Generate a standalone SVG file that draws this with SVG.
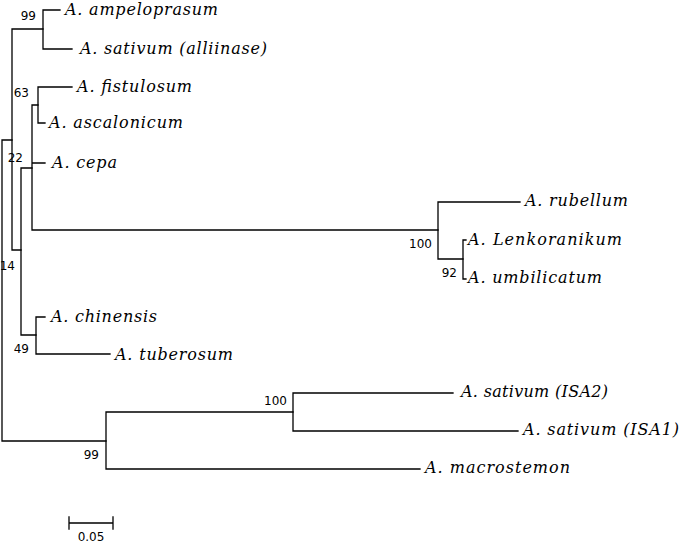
<svg xmlns="http://www.w3.org/2000/svg" width="681" height="543" viewBox="0 0 681 543">
<style>
.br{fill:none;stroke:#000;stroke-width:1.3;stroke-linecap:square}
.tx{font-family:"DejaVu Serif","Liberation Serif",serif;font-style:italic;font-size:16px;fill:#000}
.bs{font-family:"DejaVu Sans","Liberation Sans",sans-serif;font-size:12px;fill:#000;text-anchor:end}
.sc{font-family:"DejaVu Sans","Liberation Sans",sans-serif;font-size:12px;fill:#000;text-anchor:middle}
</style>
<rect width="681" height="543" fill="#fff"/>
<g id="connectors" class="br">
<path d="M2,140 V441 M2,140 H12 M2,441 H106"/>
<path d="M12,29 V250 M12,29 H43 M12,250 H21"/>
<path d="M43,10 V49 M43,10 H60 M43,49 H72"/>
<path d="M21,168 V335 M21,168 H32 M21,335 H36"/>
<path d="M32,105 V230 M32,105 H38 M32,163 H45 M32,230 H438"/>
<path d="M38,87 V123 M38,87 H72 M38,123 H45"/>
<path d="M36,317 V354 M36,317 H45 M36,354 H110"/>
<path d="M438,202 V259 M438,202 H520 M438,259 H463"/>
<path d="M463,240 V279 M463,240 H466 M463,279 H466"/>
<path d="M106,412 V469 M106,412 H293 M106,469 H420"/>
<path d="M293,393 V431 M293,393 H453 M293,431 H518"/>
</g>
<g id="leaf-ampeloprasum"><text class="tx" x="65" y="15" textLength="153">A. ampeloprasum</text></g>
<g id="leaf-sativum-alliinase"><text class="tx" x="80" y="54" textLength="187">A. sativum (alliinase)</text></g>
<g id="leaf-fistulosum"><text class="tx" x="77" y="92" textLength="115">A. fistulosum</text></g>
<g id="leaf-ascalonicum"><text class="tx" x="49" y="128" textLength="134">A. ascalonicum</text></g>
<g id="leaf-cepa"><text class="tx" x="52" y="168" textLength="65">A. cepa</text></g>
<g id="leaf-chinensis"><text class="tx" x="51" y="322" textLength="106">A. chinensis</text></g>
<g id="leaf-tuberosum"><text class="tx" x="115" y="360" textLength="118">A. tuberosum</text></g>
<g id="leaf-rubellum"><text class="tx" x="525" y="206" textLength="103">A. rubellum</text></g>
<g id="leaf-lenkoranikum"><text class="tx" x="468" y="245" textLength="154">A. Lenkoranikum</text></g>
<g id="leaf-umbilicatum"><text class="tx" x="468" y="283" textLength="134">A. umbilicatum</text></g>
<g id="leaf-isa2"><text class="tx" x="461" y="397" textLength="147">A. sativum (ISA2)</text></g>
<g id="leaf-isa1"><text class="tx" x="523" y="435" textLength="156">A. sativum (ISA1)</text></g>
<g id="leaf-macrostemon"><text class="tx" x="425" y="473" textLength="145">A. macrostemon</text></g>
<g id="bootstrap">
<text class="bs" x="36" y="20">99</text>
<text class="bs" x="29" y="97">63</text>
<text class="bs" x="23" y="162">22</text>
<text class="bs" x="15" y="270">14</text>
<text class="bs" x="29" y="353">49</text>
<text class="bs" x="432" y="248">100</text>
<text class="bs" x="457" y="277">92</text>
<text class="bs" x="287" y="405">100</text>
<text class="bs" x="99" y="459">99</text>
</g>
<g id="scale-bar">
<path class="br" d="M69,523 H113 M69,517 V529 M113,517 V529"/>
<text class="sc" x="91" y="541">0.05</text>
</g>
</svg>
